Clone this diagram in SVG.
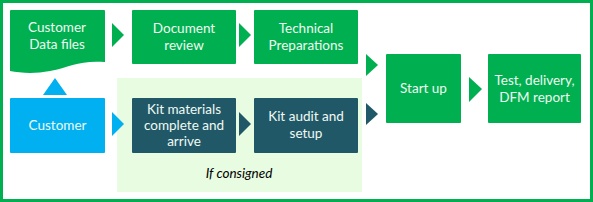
<svg xmlns="http://www.w3.org/2000/svg" width="593" height="202" viewBox="0 0 593 202">
<style>
.g{fill:#00B050}
.b{fill:#00B0F0}
.d{fill:#215868}
.t{font-family:Lato,"Open Sans",sans-serif;font-size:13.5px;fill:#F0FAF2;text-anchor:middle}
.i{font-family:Lato,"Open Sans",sans-serif;font-size:13.5px;font-style:italic;fill:#000;text-anchor:middle}
</style>
<rect x="1.5" y="1.5" width="590" height="199" fill="#fff" stroke="#00B050" stroke-width="3"/>
<rect id="consigned-area" x="117" y="78" width="245" height="114" fill="#E8FCE2"/>
<g id="connectors">
<polygon class="g" points="112,23 124,35 112,47"/>
<polygon class="g" points="239,23 251,35 239,47"/>
<polygon class="g" points="366,54 378,65 366,76"/>
<polygon class="d" points="366,103 378,114 366,125"/>
<polygon class="g" points="469,77 482,89 469,102"/>
<polygon class="b" points="112,112 124,124 112,136"/>
<polygon class="d" points="239,112 251,124 239,136"/>
<polygon class="b" points="43,95 55,78 67,95"/>
</g>
<g id="customer-data-files">
<path class="g" d="M10,11 a1,1 0 0 1 1,-1 H104 a1,1 0 0 1 1,1 V62 C80,60 70,67 50,71 C35,74 20,73 10,71 Z"/>
<text class="t" x="57" y="32">Customer</text>
<text class="t" x="57" y="49">Data files</text>
</g>
<g id="document-review">
<rect class="g" x="132" y="10" width="104" height="54" rx="1"/>
<text class="t" x="184" y="33">Document</text>
<text class="t" x="184" y="50">review</text>
</g>
<g id="technical-preparations">
<rect class="g" x="254" y="10" width="104" height="54" rx="1"/>
<text class="t" x="306" y="33">Technical</text>
<text class="t" x="306" y="50">Preparations</text>
</g>
<g id="start-up">
<rect class="g" x="386" y="54" width="75" height="69" rx="1"/>
<text class="t" x="423.5" y="93">Start up</text>
</g>
<g id="test-delivery">
<rect class="g" x="488" y="54" width="93" height="69" rx="1"/>
<text class="t" x="534.5" y="85">Test, delivery,</text>
<text class="t" x="534.5" y="102">DFM report</text>
</g>
<g id="customer">
<rect class="b" x="10" y="98" width="95" height="55" rx="1"/>
<text class="t" x="57.5" y="130">Customer</text>
</g>
<g id="kit-materials">
<rect class="d" x="132" y="98" width="104" height="55" rx="1"/>
<text class="t" x="184" y="114">Kit materials</text>
<text class="t" x="184" y="130">complete and</text>
<text class="t" x="184" y="146">arrive</text>
</g>
<g id="kit-audit">
<rect class="d" x="254" y="98" width="104" height="55" rx="1"/>
<text class="t" x="306" y="121">Kit audit and</text>
<text class="t" x="306" y="138">setup</text>
</g>
<text class="i" x="239" y="178">If consigned</text>
</svg>
